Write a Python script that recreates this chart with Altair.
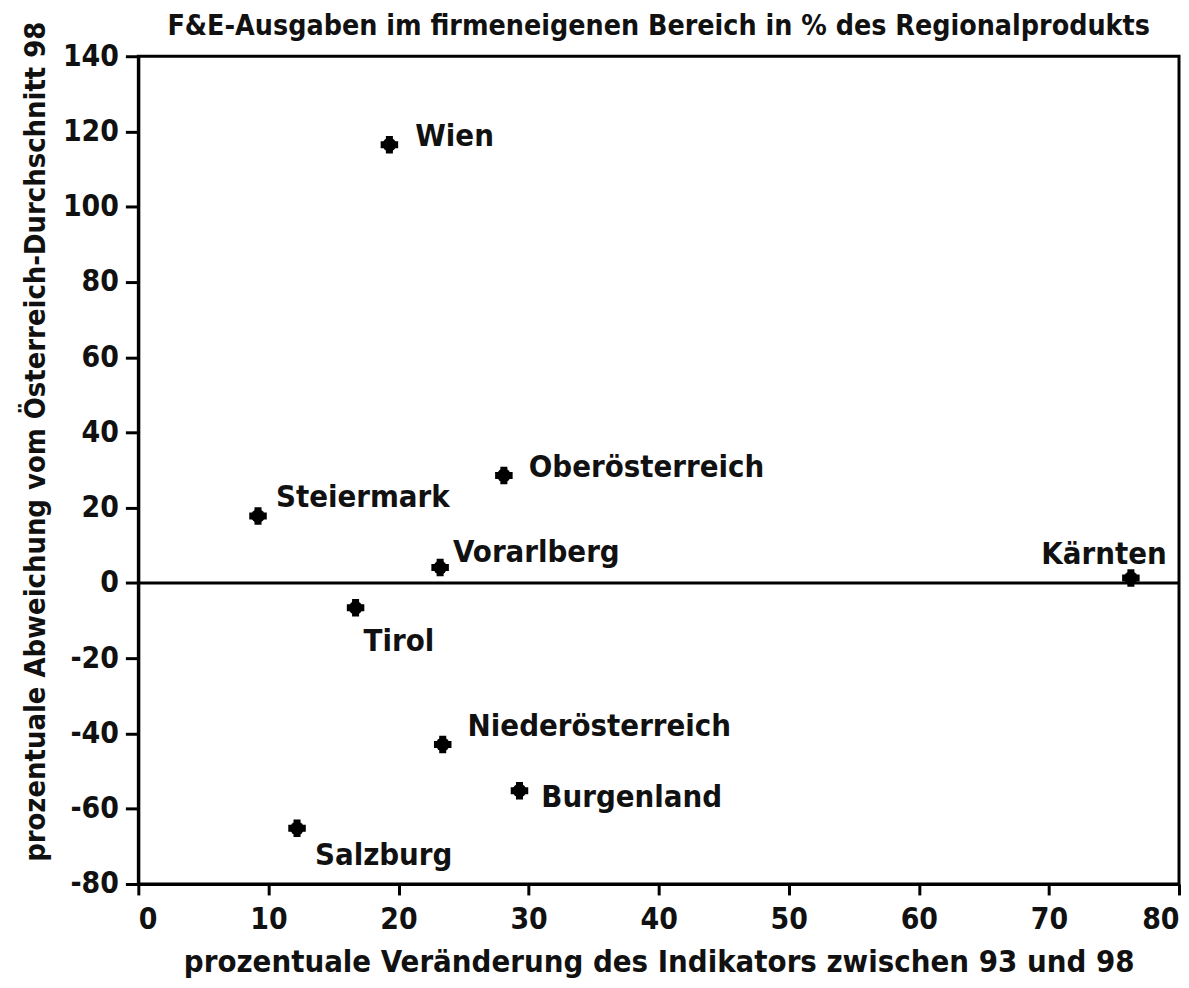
import altair as alt
import pandas as pd

regions = ["Wien", "Oberösterreich", "Steiermark", "Vorarlberg", "Kärnten",
           "Tirol", "Niederösterreich", "Burgenland", "Salzburg"]
change = [19.3, 28.1, 9.2, 23.2, 76.3, 16.7, 23.4, 29.3, 12.2]
deviation = [116.5, 28.6, 17.8, 4.1, 1.3, -6.6, -42.9, -55.2, -65.2]

x_ticks = [0, 10, 20, 30, 40, 50, 60, 70, 80]
y_ticks = [-80, -60, -40, -20, 0, 20, 40, 60, 80, 100, 120, 140]

title = "F&E-Ausgaben im firmeneigenen Bereich in % des Regionalprodukts"
x_title = "prozentuale Veränderung des Indikators zwischen 93 und 98"
y_title = "prozentuale Abweichung vom Österreich-Durchschnitt 98"

df = pd.DataFrame({"region": regions, "x": change, "y": deviation})

FONT = "DejaVu Sans Condensed, DejaVu Sans, sans-serif"
INK = "#111111"
W, H = 1046, 832

xscale = alt.Scale(domain=[0, 80], nice=False, zero=False)
yscale = alt.Scale(domain=[-80, 140], nice=False, zero=False)

base = alt.Chart(df)

x_enc = alt.X(
    "x:Q", scale=xscale, title=x_title,
    axis=alt.Axis(values=x_ticks, grid=False, tickSize=11, tickWidth=3,
                  domainWidth=3, domainColor="black", tickColor="black",
                  labelFont=FONT, labelFontSize=30, labelFontWeight="bold",
                  labelColor=INK, labelPadding=10,
                  titleFont=FONT, titleFontSize=31, titleFontWeight="bold",
                  titleColor=INK, titleBaseline="alphabetic", titleY=88),
)
y_enc = alt.Y(
    "y:Q", scale=yscale, title=y_title,
    axis=alt.Axis(values=y_ticks, grid=False, tickSize=13, tickWidth=3,
                  domainWidth=3, domainColor="black", tickColor="black",
                  labelFont=FONT, labelFontSize=30, labelFontWeight="bold",
                  labelColor=INK, labelPadding=7,
                  labelExpr="replace(datum.label, '\u2212', '-')",
                  titleFont=FONT, titleFontSize=29, titleFontWeight="bold",
                  titleColor=INK, titleBaseline="middle", titleX=-103, titleY=387),
)

dots = base.mark_point(shape="circle", filled=True, color="black", size=190, opacity=1).encode(
    x=x_enc, y=y_enc
)
crosses = base.mark_point(shape="cross", filled=True, color="black", size=310, opacity=1).encode(
    x=alt.X("x:Q", scale=xscale), y=alt.Y("y:Q", scale=yscale)
)

zero = alt.Chart(pd.DataFrame({"y": [0]})).mark_rule(color="black", strokeWidth=3).encode(
    y=alt.Y("y:Q", scale=yscale)
)

frame = alt.Chart(pd.DataFrame({"f": [0]})).mark_rect(
    fill="transparent", stroke="black", strokeWidth=3
).encode(x=alt.value(0), x2=alt.value(W), y=alt.value(0), y2=alt.value(H))

offsets = {
    "Wien": (26, 1, "left"),
    "Oberösterreich": (25, 2, "left"),
    "Steiermark": (18, -9, "left"),
    "Vorarlberg": (13, -6, "left"),
    "Kärnten": (-27, -14, "center"),
    "Tirol": (8, 43, "left"),
    "Niederösterreich": (25, -8, "left"),
    "Burgenland": (22, 16, "left"),
    "Salzburg": (18, 37, "left"),
}

label_layers = []
for name, (dx, dy, align) in offsets.items():
    label_layers.append(
        base.transform_filter(alt.datum.region == name).mark_text(
            dx=dx, dy=dy, align=align, baseline="alphabetic", font=FONT,
            fontSize=31, fontWeight="bold", color=INK
        ).encode(
            x=alt.X("x:Q", scale=xscale),
            y=alt.Y("y:Q", scale=yscale),
            text="region:N",
        )
    )

chart = alt.layer(dots, crosses, zero, frame, *label_layers).properties(
    width=W,
    height=H,
    title=alt.TitleParams(title, font=FONT, fontSize=28.5, fontWeight="bold",
                          color=INK, anchor="middle", offset=-1, dy=19),
    autosize=alt.AutoSizeParams(type="none"),
    padding={"left": 131, "top": 46, "right": 2, "bottom": 92},
).configure_view(stroke="black", strokeWidth=3).configure(background="white")

chart.save("out.html", embed_options={"renderer": "svg", "actions": False})
